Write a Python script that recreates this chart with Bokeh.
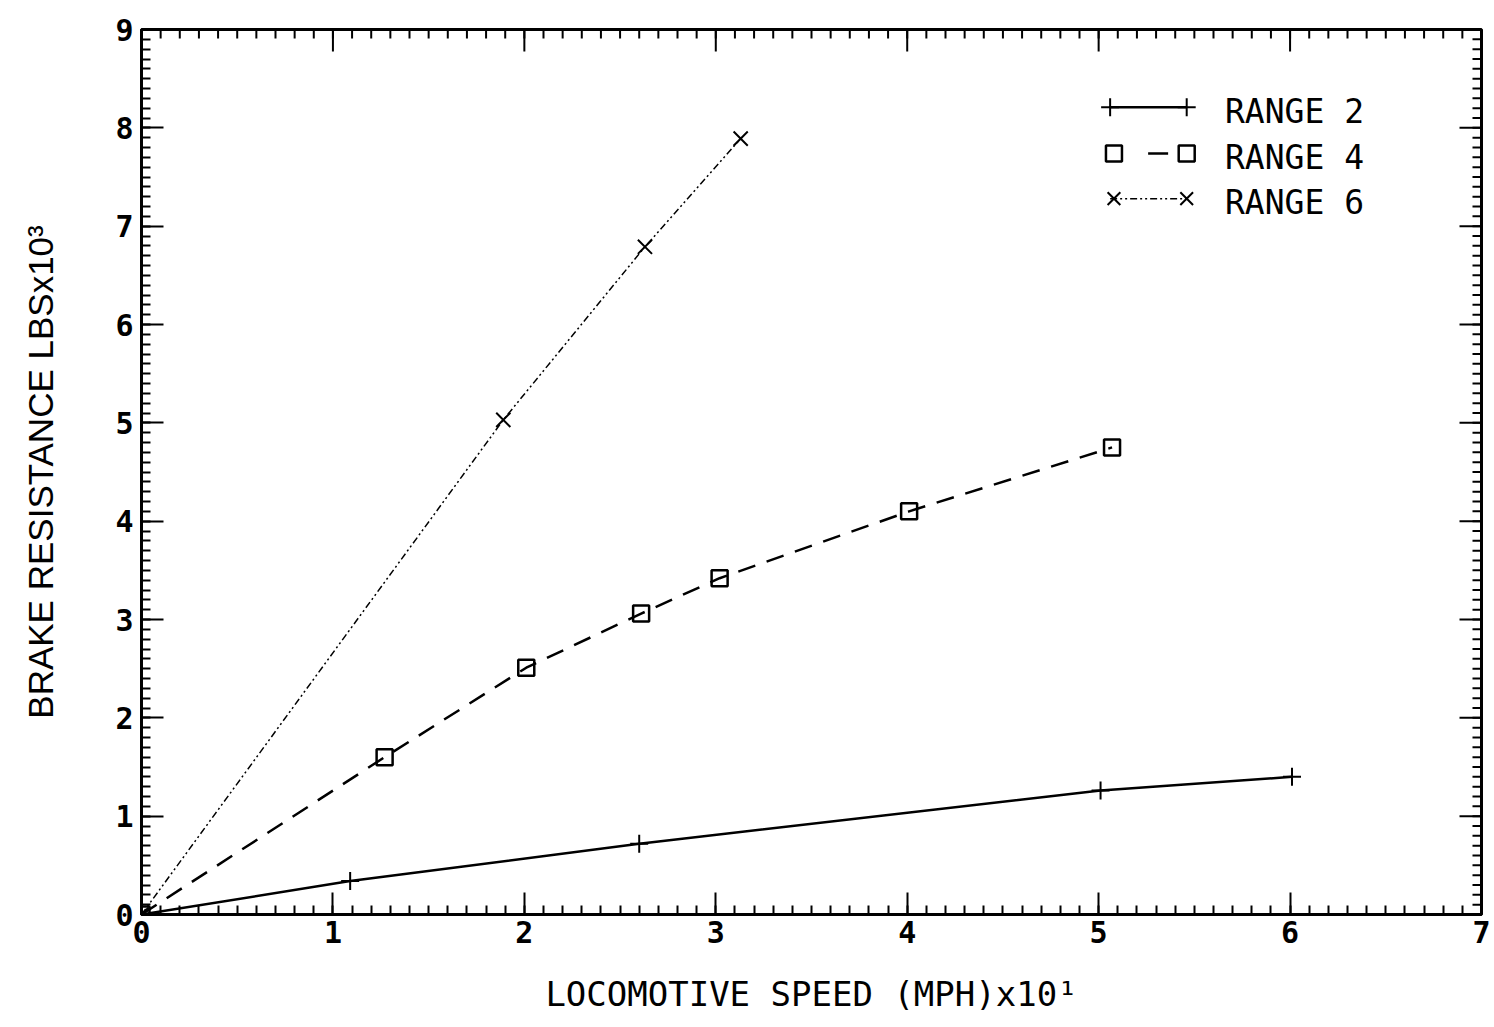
import numpy as np
from bokeh.plotting import figure
from bokeh.models import Range1d, FixedTicker
from bokeh.embed import file_html
from bokeh.resources import INLINE
from bokeh.core.properties import value

# ---- data ----
r2_x = [0.0, 1.09, 2.60, 5.01, 6.01]
r2_y = [0.0, 0.34, 0.72, 1.26, 1.40]
r4_x = [0.0, 1.27, 2.01, 2.61, 3.02, 4.01, 5.07]
r4_y = [0.0, 1.60, 2.51, 3.06, 3.42, 4.10, 4.75]
r6_x = [0.0, 1.89, 2.63, 3.13]
r6_y = [0.0, 5.03, 6.79, 7.89]

series_names = ["RANGE 2", "RANGE 4", "RANGE 6"]
x_ticks = [0, 1, 2, 3, 4, 5, 6, 7]
y_ticks = [0, 1, 2, 3, 4, 5, 6, 7, 8, 9]

TICK_FONT = "DejaVu Sans Mono"
X_MAX, Y_MAX = 7, 9

p = figure(width=1490, height=1020, x_range=Range1d(0, X_MAX), y_range=Range1d(0, Y_MAX),
           output_backend="svg", toolbar_location=None,
           min_border_left=141, min_border_right=9, min_border_top=29, min_border_bottom=106)
p.grid.visible = False
p.outline_line_color = "black"
p.outline_line_width = 3
p.background_fill_color = "white"
p.border_fill_color = "white"

x_minor = [round(v, 2) for v in np.arange(0, X_MAX + 0.001, 0.1)]
y_minor = [round(v, 2) for v in np.arange(0, Y_MAX + 0.001, 0.1)]


def style_axis(ax):
    ax.major_tick_in = 22
    ax.major_tick_out = 0
    ax.minor_tick_in = 9
    ax.minor_tick_out = 0
    ax.axis_line_width = 3
    ax.major_tick_line_width = 2
    ax.minor_tick_line_width = 2
    ax.axis_line_color = "black"
    ax.major_tick_line_color = "black"
    ax.minor_tick_line_color = "black"
    ax.major_label_text_font = TICK_FONT
    ax.major_label_text_font_size = "30px"
    ax.major_label_text_font_style = "bold"
    ax.major_label_text_color = "black"


xa = p.xaxis[0]
xa.ticker = FixedTicker(ticks=x_ticks, minor_ticks=x_minor)
style_axis(xa)
xa.major_label_standoff = 6
xa.axis_label = "LOCOMOTIVE SPEED (MPH)x10¹"
xa.axis_label_text_font = TICK_FONT
xa.axis_label_text_font_size = "34px"
xa.axis_label_text_font_style = "normal"
xa.axis_label_text_color = "black"
xa.axis_label_standoff = 28

ya = p.yaxis[0]
ya.ticker = FixedTicker(ticks=y_ticks, minor_ticks=y_minor)
style_axis(ya)
ya.major_label_standoff = 8
ya.axis_label = "BRAKE RESISTANCE LBSx10³"
ya.axis_label_text_font = "Liberation Sans"
ya.axis_label_text_font_size = "35px"
ya.axis_label_text_font_style = "normal"
ya.axis_label_text_color = "black"
ya.axis_label_standoff = 52

# ---- inward ticks on the top and right frame edges (half of each dash is clipped) ----
p.scatter(x_ticks, [Y_MAX] * len(x_ticks), marker="dash", angle=np.pi / 2, size=44,
          line_color="black", line_width=2)
p.scatter(x_minor, [Y_MAX] * len(x_minor), marker="dash", angle=np.pi / 2, size=18,
          line_color="black", line_width=2)
p.scatter([X_MAX] * len(y_ticks), y_ticks, marker="dash", size=44,
          line_color="black", line_width=2)
p.scatter([X_MAX] * len(y_minor), y_minor, marker="dash", size=18,
          line_color="black", line_width=2)

# ---- series ----
p.line(r2_x, r2_y, line_color="black", line_width=2.5)
p.scatter(r2_x, r2_y, marker="cross", size=18, line_color="black", line_width=2)

p.line(r4_x, r4_y, line_color="black", line_width=2.5, line_dash="18 12")
p.scatter(r4_x, r4_y, marker="square", size=16, fill_color=None, line_color="black", line_width=2.5)

p.line(r6_x, r6_y, line_color="black", line_width=1.5, line_dash="7 3 2 3 2 3")
p.scatter(r6_x, r6_y, marker="x", size=20, line_color="black", line_width=2)

# ---- hand-built legend (layout positions in data space) ----
leg_x0, leg_x1, leg_tx = 5.06, 5.46, 5.66
leg_rows = [8.21, 7.74, 7.28]
p.line([leg_x0, leg_x1], [leg_rows[0]] * 2, line_color="black", line_width=2.5)
p.scatter([leg_x0, leg_x1], [leg_rows[0]] * 2, marker="cross", size=18, line_color="black", line_width=2)
p.line([leg_x0, leg_x1], [leg_rows[1]] * 2, line_color="black", line_width=2.5, line_dash="0 38 20 12")
p.scatter([leg_x0 + 0.02, leg_x1], [leg_rows[1]] * 2, marker="square", size=16, fill_color=None,
          line_color="black", line_width=2.5)
p.line([leg_x0, leg_x1], [leg_rows[2]] * 2, line_color="black", line_width=1.5, line_dash="7 3 2 3 2 3")
p.scatter([leg_x0 + 0.02, leg_x1], [leg_rows[2]] * 2, marker="x", size=18, line_color="black", line_width=2)
p.text([leg_tx] * 3, [r - 0.04 for r in leg_rows], text=series_names,
       text_font=value(TICK_FONT), text_font_size="33px", text_baseline="middle",
       text_align="left", text_color="black")

open("out.html", "w").write(file_html(p, INLINE))
